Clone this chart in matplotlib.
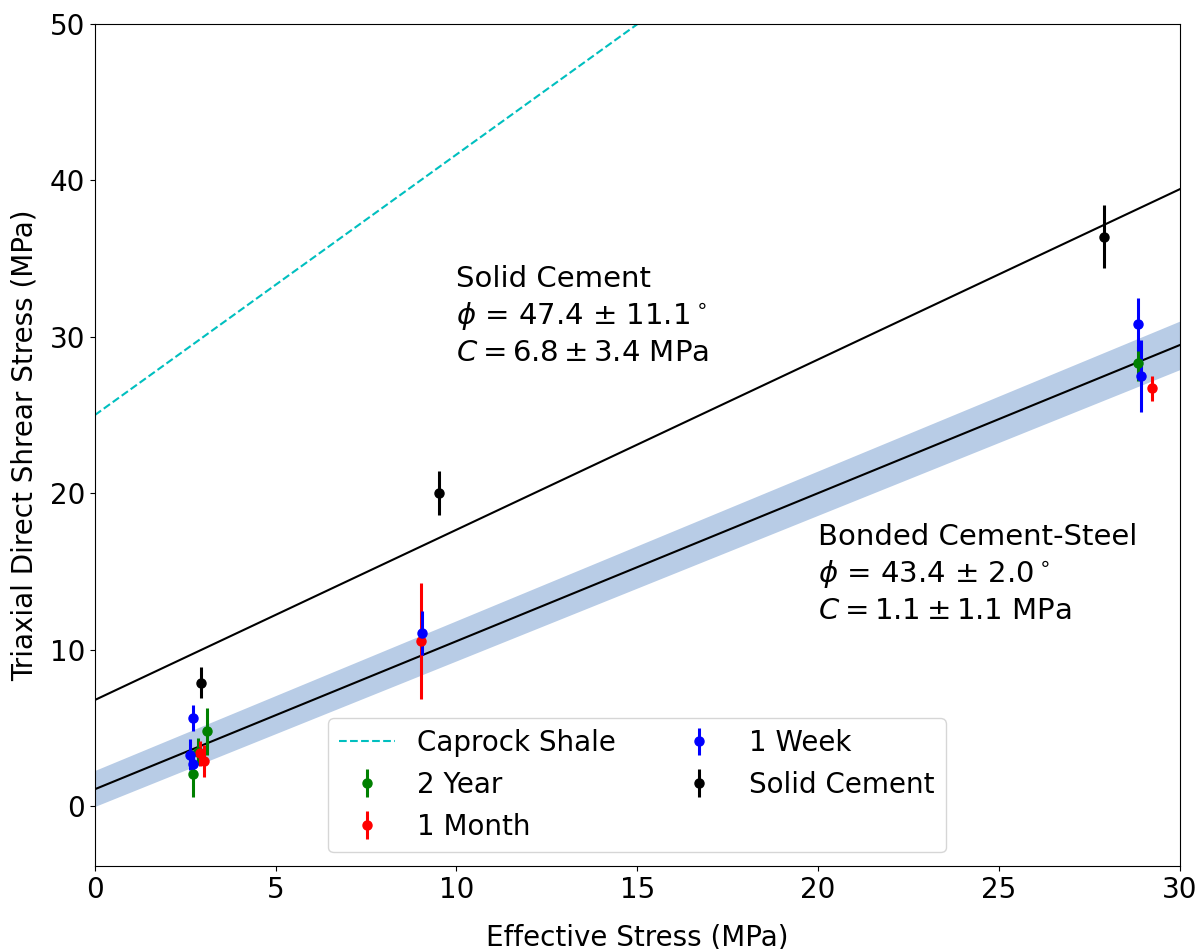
import numpy as np
import matplotlib
matplotlib.use('Agg')
import matplotlib.pyplot as plt

# measured points: x, y, y error
yr2_x = [3.10, 2.71, 2.86, 28.85]
yr2_y = [4.8, 2.1, 3.5, 28.3]
yr2_err = [1.5, 1.5, 0.85, 1.1]

month_x = [9.02, 2.92, 3.01, 29.23]
month_y = [10.55, 3.4, 2.9, 26.7]
month_err = [3.7, 0.8, 1.0, 0.8]

week_x = [9.05, 2.71, 2.64, 2.71, 28.86, 28.94]
week_y = [11.1, 5.66, 3.3, 2.7, 30.8, 27.5]
week_err = [1.4, 0.85, 1.0, 0.8, 1.7, 2.3]

solid_x = [2.93, 9.51, 27.92]
solid_y = [7.9, 20.0, 36.4]
solid_err = [1.0, 1.4, 2.0]

# Mohr-Coulomb fits (cohesion, friction angle)
shale_C, shale_phi = 25.0, 59.0
solid_C, solid_phi = 6.8, 47.4
bond_C, bond_phi = 1.1, 43.4

# confidence band of the bonded fit at x=0 and x=30
band_x = [0, 30]
band_lo = [0.0, 27.9]
band_hi = [2.3, 31.0]

plt.rcParams['font.family'] = ['DejaVu Sans']
plt.rcParams['font.size'] = 20

fig = plt.figure(figsize=(12, 9.49), dpi=100)
ax = fig.add_axes([0.079, 0.0875, 0.904, 0.8875])

x = np.linspace(0, 30, 100)
ax.fill_between(band_x, band_lo, band_hi, color='#b8cce6', lw=0)
ax.plot(x, shale_C + np.tan(np.radians(shale_phi)) * x, '--', color='c', lw=1.5, label='Caprock Shale')
ax.plot(x, solid_C + np.tan(np.radians(solid_phi)) * x, '-', color='k', lw=1.5)
ax.plot(x, bond_C + np.tan(np.radians(bond_phi)) * x, '-', color='k', lw=1.5)

ekw = dict(fmt='o', ms=6.5, elinewidth=2.2, capsize=0)
ax.errorbar(yr2_x, yr2_y, yerr=yr2_err, color='g', label='2 Year', **ekw)
ax.errorbar(month_x, month_y, yerr=month_err, color='r', label='1 Month', **ekw)
ax.errorbar(week_x, week_y, yerr=week_err, color='b', label='1 Week', **ekw)
ax.errorbar(solid_x, solid_y, yerr=solid_err, color='k', label='Solid Cement', **ekw)

ax.text(10.0, 34.6, 'Solid Cement\n$\\phi$ = 47.4 $\\pm$ 11.1$^\\circ$\n$C = 6.8 \\pm 3.4$ MPa',
        va='top', ha='left', linespacing=1.3, fontsize=21)
ax.text(20.0, 18.1, 'Bonded Cement-Steel\n$\\phi$ = 43.4 $\\pm$ 2.0$^\\circ$\n$C = 1.1 \\pm 1.1$ MPa',
        va='top', ha='left', linespacing=1.3, fontsize=21)

ax.set_xlim(0, 30)
ax.set_ylim(-3.8, 50)
ax.set_xlabel('Effective Stress (MPa)', labelpad=14)
ax.set_ylabel('Triaxial Direct Shrear Stress (MPa)', labelpad=8)
ax.legend(loc='lower center', ncol=2)

plt.savefig('out.png')
